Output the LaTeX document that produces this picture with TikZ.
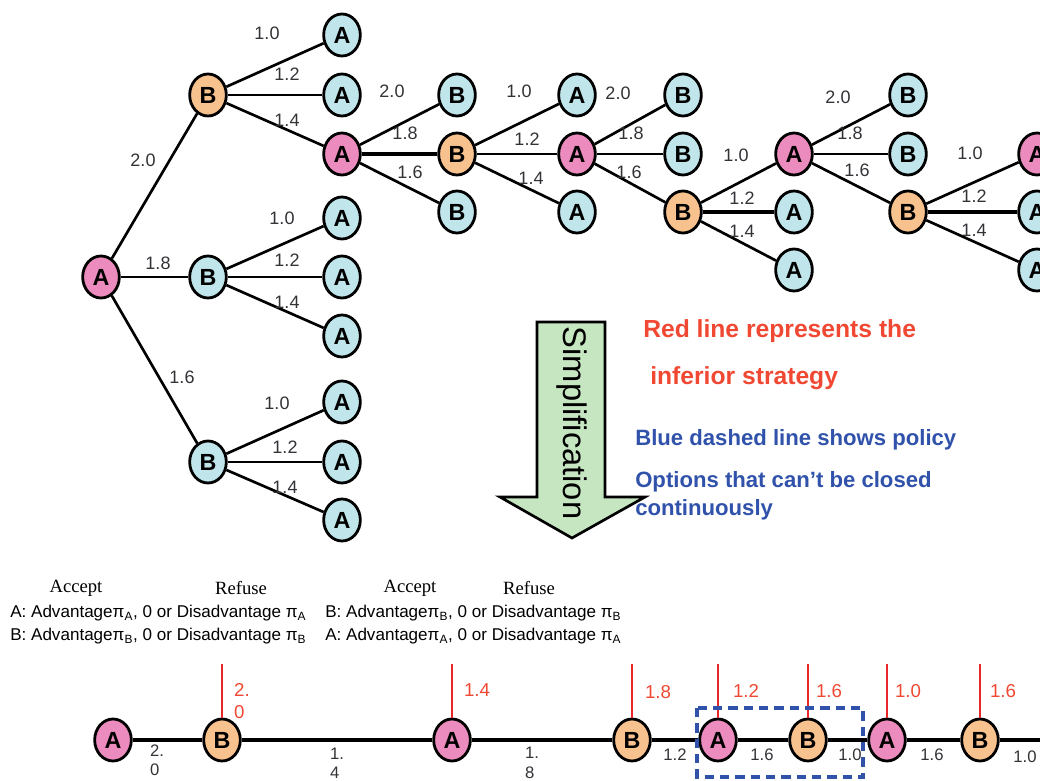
\documentclass[tikz,border=0pt]{standalone}
\usepackage{fontspec}
\setmainfont{Liberation Sans}
\newfontfamily\timesfont{Liberation Serif}
\usetikzlibrary{shapes.geometric}
\definecolor{pinkA}{RGB}{236,140,190}
\definecolor{orangeB}{RGB}{248,194,142}
\definecolor{cyanC}{RGB}{192,230,236}
\definecolor{arrowgreen}{RGB}{197,230,192}
\definecolor{lblgray}{RGB}{50,50,55}
\definecolor{redtxt}{RGB}{240,72,50}
\definecolor{redln}{RGB}{232,40,40}
\definecolor{bluetxt}{RGB}{48,82,170}

\begin{document}
\begin{tikzpicture}[x=0.75pt,y=-0.75pt,
  nd/.style={draw,ellipse,line width=2.1pt,inner sep=0pt,minimum width=27.5pt,minimum height=31.5pt,
    font=\bfseries\fontsize{17.5}{17.5}\selectfont},
  pa/.style={nd,fill=pinkA},
  pb/.style={nd,fill=orangeB},
  pc/.style={nd,fill=cyanC},
  lbl/.style={inner sep=0pt,text=lblgray,font=\fontsize{13.5}{13.5}\selectfont},
  rlbl/.style={inner sep=0pt,text=redtxt,font=\fontsize{14}{16}\selectfont,align=left},
  blbl/.style={inner sep=0pt,text=lblgray,font=\fontsize{12.5}{14.5}\selectfont,align=left},
  edge/.style={line width=2pt},
  thk/.style={line width=2.9pt},
  redbar/.style={draw=redln,line width=1.9pt},
  note/.style={inner sep=0pt,anchor=west,font=\bfseries\fontsize{18.5}{18.5}\selectfont}]
  \useasboundingbox (0,0) rectangle (1040,781);
  \clip (0,0) rectangle (1040,781);
  % game tree
  \path (101,277) node[pa] (r) {A}
  (208,95) node[pb] (b1) {B} (208,277) node[pc] (b2) {B} (208,462) node[pc] (b3) {B}
  (342,35) node[pc] (a11) {A} (342,95) node[pc] (a12) {A} (342,154) node[pa] (a13) {A}
  (342,218) node[pc] (a21) {A} (342,277) node[pc] (a22) {A} (342,336) node[pc] (a23) {A}
  (342,402) node[pc] (a31) {A} (342,462) node[pc] (a32) {A} (342,520) node[pc] (a33) {A}
  (457,95) node[pc] (c1) {B} (457,154) node[pb] (c2) {B} (457,212) node[pc] (c3) {B}
  (577,95) node[pc] (d1) {A} (577,154) node[pa] (d2) {A} (577,212) node[pc] (d3) {A}
  (683,95) node[pc] (e1) {B} (683,154) node[pc] (e2) {B} (683,212) node[pb] (e3) {B}
  (794,154) node[pa] (f1) {A} (794,212) node[pc] (f2) {A} (794,270) node[pc] (f3) {A}
  (908,95) node[pc] (g1) {B} (908,154) node[pc] (g2) {B} (908,212) node[pb] (g3) {B}
  (1037,154) node[pa] (h1) {A} (1037,212) node[pc] (h2) {A} (1037,270) node[pc] (h3) {A};
  \foreach \p/\c in {r/b1,r/b2,r/b3,b1/a11,b1/a12,b1/a13,b2/a21,b2/a22,b2/a23,b3/a31,b3/a32,b3/a33,
    a13/c1,a13/c3,c2/d1,c2/d2,c2/d3,d2/e1,d2/e2,d2/e3,e3/f1,e3/f3,f1/g1,f1/g2,f1/g3,g3/h1,g3/h3}
    \draw[edge] (\p) -- (\c);
  \draw[thk] (a13) -- (c2);
  \draw[thk] (e3) -- (f2);
  \draw[thk] (g3) -- (h2);
  % edge values
  \path (143,160) node[lbl] {2.0} (158,263) node[lbl] {1.8} (182,377) node[lbl] {1.6}
  (267,33) node[lbl] {1.0} (287,74) node[lbl] {1.2} (287,120) node[lbl] {1.4}
  (282,218) node[lbl] {1.0} (287,260) node[lbl] {1.2} (287,302) node[lbl] {1.4}
  (277,403) node[lbl] {1.0} (285,447) node[lbl] {1.2} (285,487) node[lbl] {1.4}
  (392,91) node[lbl] {2.0} (405,133) node[lbl] {1.8} (410,172) node[lbl] {1.6}
  (519,91) node[lbl] {1.0} (527,139) node[lbl] {1.2} (531,178) node[lbl] {1.4}
  (618,93) node[lbl] {2.0} (631,133) node[lbl] {1.8} (629,172) node[lbl] {1.6}
  (736,155) node[lbl] {1.0} (742,198) node[lbl] {1.2} (742,231) node[lbl] {1.4}
  (838,97) node[lbl] {2.0} (850,133) node[lbl] {1.8} (857,170) node[lbl] {1.6}
  (970,153) node[lbl] {1.0} (974,196) node[lbl] {1.2} (974,230) node[lbl] {1.4};
  % simplification arrow
  \draw[line width=2pt,fill=arrowgreen] (537,322) -- (605,322) -- (605,497) -- (645,497)
    -- (572,538) -- (500,497) -- (537,497) -- cycle;
  \node[rotate=-90,inner sep=0pt,font=\fontsize{24.5}{24.5}\selectfont] (simp) at (572,423) {Simplification};
  \node[note,text=redtxt] (n1) at (643,331) {Red line represents the};
  \node[note,text=redtxt] (n2) at (650,378) {inferior strategy};
  \node[note,text=bluetxt,font=\bfseries\fontsize{16.6}{16.6}\selectfont] (n3) at (635,440) {Blue dashed line shows policy};
  \node[note,text=bluetxt,font=\bfseries\fontsize{16.6}{16.6}\selectfont] (n4) at (635,482) {Options that can’t be closed};
  \node[note,text=bluetxt,font=\bfseries\fontsize{16.6}{16.6}\selectfont] (n5) at (635,510) {continuously};
  % accept / refuse
  \path[font=\timesfont\fontsize{14}{14}\selectfont] (76,588) node (acc1) {Accept} (241,588) node (ref1) {Refuse}
  (410,588) node (acc2) {Accept} (529,588) node (ref2) {Refuse};
  \path[font=\fontsize{12.8}{12.8}\selectfont,inner sep=0pt] 
  (10,613) node[anchor=west] (t1) {A: Advantageπ\textsubscript{A}, 0 or Disadvantage π\textsubscript{A}}
  (10,636) node[anchor=west] (t2) {B: Advantageπ\textsubscript{B}, 0 or Disadvantage π\textsubscript{B}}
  (325,613) node[anchor=west] (t3) {B: Advantageπ\textsubscript{B}, 0 or Disadvantage π\textsubscript{B}}
  (325,636) node[anchor=west] (t4) {A: Advantageπ\textsubscript{A}, 0 or Disadvantage π\textsubscript{A}};
  % simplified chain
  \path (113,740) node[pa] (q1) {A} (222,740) node[pb] (q2) {B} (452,740) node[pa] (q3) {A}
  (632,740) node[pb] (q4) {B} (718,740) node[pa] (q5) {A} (808,740) node[pb] (q6) {B}
  (887,740) node[pa] (q7) {A} (980,740) node[pb] (q8) {B};
  \coordinate (qend) at (1040,740);
  \draw[line width=2.8pt] (q1) -- (q2) -- (q3) -- (q4) -- (q5) -- (q6) -- (q7) -- (q8) -- (qend);
  \foreach \q in {q2,q3,q4,q5,q6,q7,q8}
    \draw[redbar] (\q.north) -- ++(0,-54);
  \path (242,701) node[rlbl] {2.\\0} (477,690) node[rlbl] {1.4} (658,692) node[rlbl] {1.8}
  (746,691) node[rlbl] {1.2} (829,691) node[rlbl] {1.6} (908,691) node[rlbl] {1.0} (1003,691) node[rlbl] {1.6};
  \path (157,760) node[blbl] {2.\\0} (337,763) node[blbl] {1.\\4} (532,763) node[blbl] {1.\\8}
  (675,755) node[blbl] {1.2} (762,755) node[blbl] {1.6} (850,755) node[blbl] {1.0}
  (932,755) node[blbl] {1.6} (1025,757) node[blbl] {1.0};
  \draw[draw=bluetxt,line width=2.4pt,dash pattern=on 7pt off 4.5pt] (697,708) rectangle (863,777);
\end{tikzpicture}
\end{document}
